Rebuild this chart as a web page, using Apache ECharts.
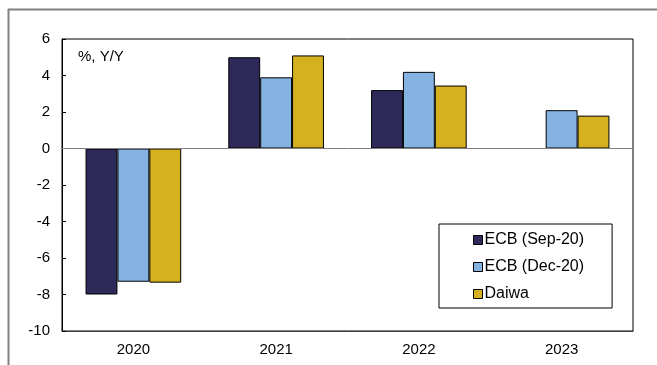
<!DOCTYPE html>
<html>
<head>
<meta charset="utf-8">
<script src="https://cdn.jsdelivr.net/npm/echarts@6/dist/echarts.min.js"></script>
<style>
  html, body { margin: 0; padding: 0; background: #fff; }
  #main { width: 657px; height: 365px; }
</style>
</head>
<body>
<div id="main"></div>
<script>
// chart data
var years = ['2020', '2021', '2022', '2023'];
var ecbSep = [-8.0, 5.0, 3.2, null];
var ecbDec = [-7.3, 3.9, 4.2, 2.1];
var daiwa = [-7.35, 5.1, 3.45, 1.8];
var seriesNames = ['ECB (Sep-20)', 'ECB (Dec-20)', 'Daiwa'];
var yTicks = { min: -10, max: 6, step: 2 };

var font = 'Liberation Sans, Arial, sans-serif';
var colors = ['#2D2A5A', '#84B3E2', '#D5B120'];

var myChart = echarts.init(document.getElementById('main'));

function bar(name, data, idx) {
  var s = {
    name: name,
    type: 'bar',
    data: data,
    barGap: '0%',
    barCategoryGap: '33%',
    itemStyle: { color: colors[idx], borderColor: '#000', borderWidth: 1 }
  };
  if (idx === 0) {
    // zero line across the plot
    s.markLine = {
      silent: true,
      symbol: 'none',
      label: { show: false },
      lineStyle: { color: '#808080', width: 1, type: 'solid' },
      data: [{ yAxis: 0 }]
    };
  }
  return s;
}

var option = {
  animation: false,
  color: colors,
  textStyle: { fontFamily: font },
  grid: {
    left: 62, right: 24, top: 39, bottom: 34,
    show: true, borderColor: '#000', borderWidth: 1
  },
  legend: {
    orient: 'vertical',
    left: 439,
    top: 224,
    padding: [8, 28, 6, 34],
    itemGap: 11,
    itemWidth: 9,
    itemHeight: 9,
    icon: 'rect',
    borderColor: '#000',
    borderWidth: 1,
    backgroundColor: '#fff',
    textStyle: { fontFamily: font, fontSize: 16, color: '#000', padding: [0, 0, 0, -3] },
    itemStyle: { borderColor: '#000', borderWidth: 1 },
    data: seriesNames
  },
  graphic: [
    { type: 'line', shape: { x1: 8, y1: 9.5, x2: 657, y2: 9.5 }, style: { stroke: '#808080', lineWidth: 2 } },
    { type: 'line', shape: { x1: 8.5, y1: 9, x2: 8.5, y2: 365 }, style: { stroke: '#808080', lineWidth: 2 } },
    { type: 'text', left: 78, top: 49, style: { text: '%, Y/Y', font: '15px ' + font, fill: '#000' } }
  ],
  xAxis: {
    type: 'category',
    data: years,
    axisLine: { onZero: false, lineStyle: { color: '#404040', width: 1 } },
    axisTick: { show: false },
    axisLabel: { color: '#000', fontSize: 15, margin: 11 },
    splitLine: { show: false }
  },
  yAxis: {
    type: 'value',
    min: yTicks.min,
    max: yTicks.max,
    interval: yTicks.step,
    axisLine: { show: true, lineStyle: { color: '#000', width: 1 } },
    axisTick: { show: true, inside: true, length: 4, lineStyle: { color: '#000' } },
    axisLabel: { color: '#000', fontSize: 15, margin: 12 },
    splitLine: { show: false }
  },
  series: [
    bar(seriesNames[0], ecbSep, 0),
    bar(seriesNames[1], ecbDec, 1),
    bar(seriesNames[2], daiwa, 2)
  ]
};

myChart.setOption(option);
</script>
</body>
</html>
